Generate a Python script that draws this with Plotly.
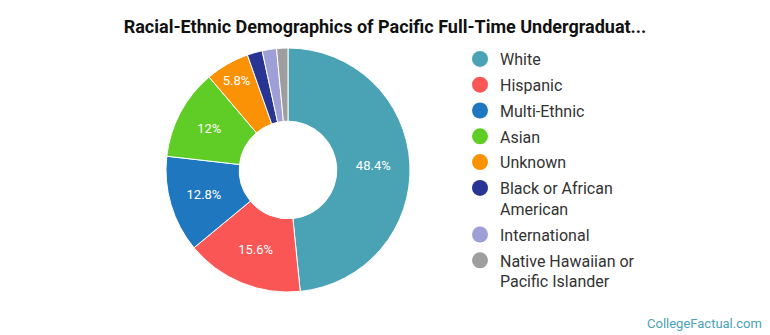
import plotly.graph_objects as go

labels = ["White", "Hispanic", "Multi-Ethnic", "Asian", "Unknown",
          "Black or African American", "International",
          "Native Hawaiian or Pacific Islander"]
legend_labels = ["White", "Hispanic", "Multi-Ethnic", "Asian", "Unknown",
                 "Black or African<br>American", "International",
                 "Native Hawaiian or<br>Pacific Islander"]
values = [48.4, 15.6, 12.8, 12.0, 5.8, 2.0, 1.9, 1.5]
colors = ["#4aa2b5", "#fa5656", "#1f77c0", "#5fcd25", "#fb9105",
          "#283593", "#9d9fd6", "#9e9e9e"]

slice_text = [f"{v:g}%" if v > 5 else "" for v in values]

W, H = 770, 335
fig = go.Figure()
fig.add_trace(go.Pie(
    labels=labels, values=values, text=slice_text, textinfo="text",
    sort=False, direction="clockwise", rotation=0, hole=0.4,
    marker=dict(colors=colors, line=dict(color="white", width=1)),
    textfont=dict(color="white", size=13, family="Roboto"),
    insidetextorientation="horizontal", textposition="inside",
    showlegend=False, hoverinfo="label+percent",
    domain=dict(x=[166 / W, 410 / W], y=[1 - 292 / H, 1 - 48 / H]),
))
for i, (lab, col) in enumerate(zip(legend_labels, colors)):
    fig.add_trace(go.Scatter(
        x=[None], y=[None], mode="markers", name=lab,
        legendgroup=f"g{i}",
        marker=dict(color=col, size=17, symbol="circle"),
    ))

fig.update_layout(
    width=W, height=H,
    margin=dict(l=0, r=0, t=0, b=0),
    paper_bgcolor="white", plot_bgcolor="white",
    title=dict(text="<b>Racial-Ethnic Demographics of Pacific Full-Time Undergraduat...</b>",
               x=0.5, xanchor="center", y=1 - 27 / H, yanchor="middle",
               font=dict(family="Roboto", size=18, color="#111")),
    xaxis=dict(visible=False), yaxis=dict(visible=False),
    legend=dict(x=460 / W, y=1 - 42 / H, xanchor="left", yanchor="top",
                font=dict(family="Roboto", size=16, color="#333"),
                tracegroupgap=2, itemsizing="trace", valign="top",
                bgcolor="rgba(0,0,0,0)"),
    annotations=[dict(text="CollegeFactual.com", x=1 - 6 / W, y=12 / H,
                      xref="paper", yref="paper", xanchor="right", yanchor="middle",
                      showarrow=False,
                      font=dict(family="Roboto", size=13, color="#4aa2b5"))],
)
fig.write_html("out.html")
